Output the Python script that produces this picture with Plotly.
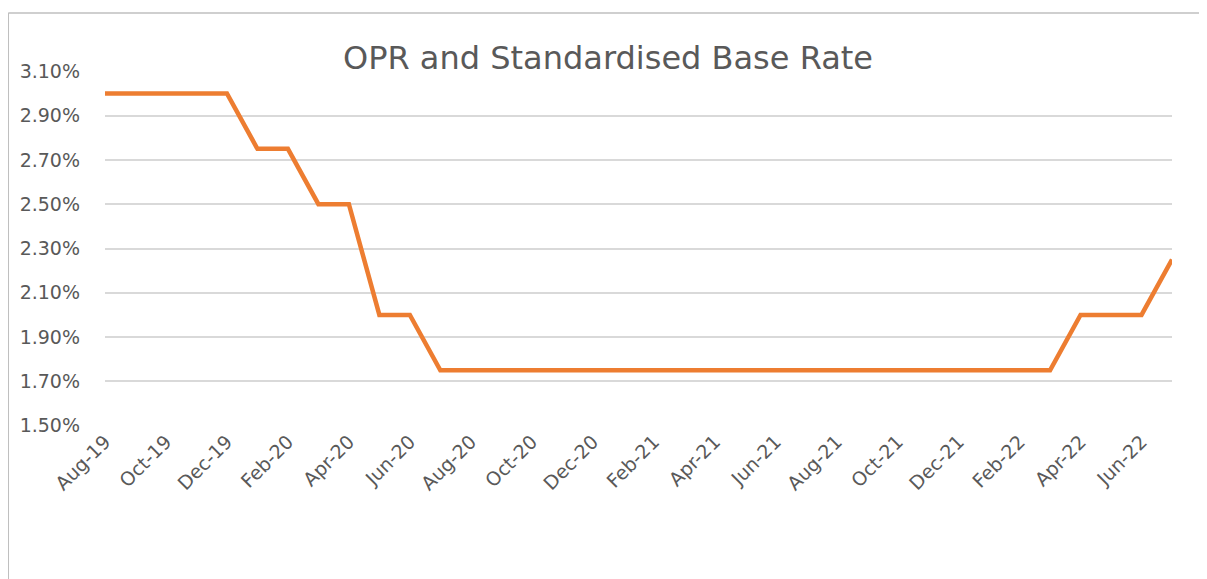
import plotly.graph_objects as go

months = ["Aug-19", "Sep-19", "Oct-19", "Nov-19", "Dec-19", "Jan-20", "Feb-20", "Mar-20",
          "Apr-20", "May-20", "Jun-20", "Jul-20", "Aug-20", "Sep-20", "Oct-20", "Nov-20",
          "Dec-20", "Jan-21", "Feb-21", "Mar-21", "Apr-21", "May-21", "Jun-21", "Jul-21",
          "Aug-21", "Sep-21", "Oct-21", "Nov-21", "Dec-21", "Jan-22", "Feb-22", "Mar-22",
          "Apr-22", "May-22", "Jun-22", "Jul-22"]
rate = [3.00, 3.00, 3.00, 3.00, 3.00, 2.75, 2.75, 2.50,
        2.50, 2.00, 2.00, 1.75, 1.75, 1.75, 1.75, 1.75,
        1.75, 1.75, 1.75, 1.75, 1.75, 1.75, 1.75, 1.75,
        1.75, 1.75, 1.75, 1.75, 1.75, 1.75, 1.75, 1.75,
        2.00, 2.00, 2.00, 2.25]
y_ticks = [1.5, 1.7, 1.9, 2.1, 2.3, 2.5, 2.7, 2.9, 3.1]
y_labels = [f"{v:.2f}%" for v in y_ticks]
x_tick_labels = months[::2]

# page body has an 8px margin
OFF = 8
W, H = 1207 - OFF, 579 - OFF
L, R, T, B = 102 - OFF, 1172 - OFF, 71 - OFF, 426 - OFF

fig = go.Figure()
fig.add_trace(go.Scatter(
    x=list(range(len(months))), y=rate, mode="lines",
    line=dict(color="#ED7D31", width=4.5),
    hoverinfo="skip", showlegend=False,
))

tickfont = dict(family="DejaVu Sans", size=19, color="#595959")
fig.update_layout(
    width=W, height=H,
    margin=dict(l=L, r=W - R, t=T, b=H - B),
    paper_bgcolor="white", plot_bgcolor="white",
    title=dict(text="OPR and Standardised Base Rate", x=(608 - OFF) / W, xanchor="center",
               y=1 - (58 - OFF) / H, yanchor="middle",
               font=dict(family="DejaVu Sans", size=32, color="#595959")),
    xaxis=dict(range=[0, len(months) - 1], tickmode="array",
               tickvals=list(range(0, len(months), 2)), ticktext=x_tick_labels,
               tickangle=-45, tickfont=tickfont, showgrid=False, zeroline=False,
               showline=False, ticks="", ticklen=0),
    yaxis=dict(range=[1.4985, 3.1015], tickmode="array", tickvals=y_ticks, ticktext=y_labels,
               tickfont=tickfont, showgrid=True, gridcolor="#D9D9D9", gridwidth=1.5,
               zeroline=False, showline=False, ticks="", ticklabelstandoff=24),
)

pw, ph = R - L, B - T
bx = (5 - OFF - L) / pw
by = 1 + (T - (13 - OFF)) / ph
fig.add_shape(type="line", xref="paper", yref="paper", x0=bx, x1=(W + 5 - L) / pw,
              y0=by, y1=by, line=dict(color="#BFBFBF", width=1.5))
fig.add_shape(type="line", xref="paper", yref="paper", x0=bx, x1=bx,
              y0=by, y1=(B - H - 5) / ph, line=dict(color="#BFBFBF", width=1.5))

fig.write_html("out.html")
